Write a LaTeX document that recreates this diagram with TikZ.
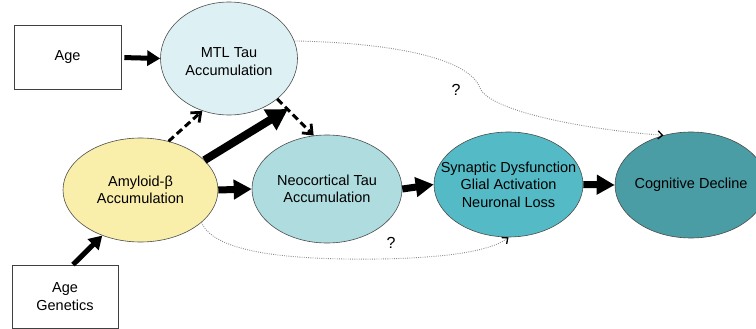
\documentclass[tikz,border=0pt]{standalone}
\usepackage{fontspec}
\setmainfont{Liberation Sans}
\usepackage{xcolor}
\usetikzlibrary{shapes.geometric,arrows.meta}

\definecolor{mtlfill}{HTML}{DDF1F4}
\definecolor{amyfill}{HTML}{FAEEAB}
\definecolor{neofill}{HTML}{AEDCDF}
\definecolor{synfill}{HTML}{54BBC6}
\definecolor{cogfill}{HTML}{4A9DA4}

\begin{document}
\begin{tikzpicture}[x=1pt, y=-1pt, >=latex,
    every node/.style={font=\fontsize{14.5}{17.5}\selectfont, align=center},
    factor/.style={draw=black!75, line width=0.6pt, rectangle, minimum width=107pt, minimum height=64pt},
    stage/.style={draw=black!70, line width=0.6pt, ellipse, inner sep=0pt},
    light/.style={line width=5pt, -{Triangle[length=13pt,width=15pt]}},
    heavy/.style={line width=7pt, -{Triangle[length=18pt,width=19pt]}},
    heavier/.style={line width=8pt, -{Triangle[length=21pt,width=23pt]}},
    dasharrow/.style={line width=3pt, dash pattern=on 7pt off 4pt, -{Straight Barb[length=8pt,width=13pt,line width=2.8pt]}},
    hint/.style={draw=black!45, line width=0.9pt, dash pattern=on 0.9pt off 1.3pt, -{Straight Barb[length=4.5pt,width=8pt,color=black,line width=1.3pt]}}]
    \useasboundingbox (0,0) rectangle (756,329);

    \node[factor] (age) at (67.5,57.5) {Age};
    \node[factor, minimum width=106pt, minimum height=63pt] (agegen) at (65,296.5) {Age\\Genetics};

    \node[stage, fill=mtlfill, minimum width=137pt, minimum height=113pt,
        label={[yshift=-3pt]center:MTL Tau\\Accumulation}] (mtl) at (229,58.5) {};
    \node[stage, fill=amyfill, minimum width=155pt, minimum height=104pt,
        label={center:Amyloid-β\\Accumulation}] (amy) at (140.5,190) {};
    \node[stage, fill=neofill, minimum width=150pt, minimum height=108pt,
        label={center:Neocortical Tau\\Accumulation}] (neo) at (327,189) {};
    \node[stage, fill=synfill, minimum width=149pt, minimum height=105pt,
        label={center:Synaptic Dysfunction\\Glial Activation\\Neuronal Loss}] (syn) at (508.5,184.5) {};
    \node[stage, fill=cogfill, minimum width=152pt, minimum height=106pt,
        label={center:Cognitive Decline}] (cog) at (691,185) {};

    \coordinate (mtltip) at (288,109);

    \draw[light, shorten <=3pt] (age.east) -- (mtl.west);
    \draw[light] ([xshift=8pt]agegen.north) -- (amy.-130);
    \draw[dasharrow] (amy.60) -- (mtl.-117);
    \draw[heavier] (amy.25) -- (mtltip);
    \draw[dasharrow] (mtl.-40) -- (neo.104);
    \draw[heavy] (amy.east) -- (neo.west);
    \draw[heavy] (neo.east) -- (syn.west);
    \draw[heavy] (syn.east) -- (cog.west);

    \draw[hint] (mtl.15) .. controls (400,43) and (470,60) .. (480,88)
        .. controls (490,112) and (590,130) .. (cog.119);
    \draw[hint] (amy.-28) .. controls (215,255) and (300,260) .. (380,259)
        .. controls (440,258) and (490,252) .. (syn.south);

    \node (q1) at (456,90) {\fontsize{16}{18}\selectfont ?};
    \node (q2) at (391,243) {\fontsize{16}{18}\selectfont ?};
\end{tikzpicture}
\end{document}
